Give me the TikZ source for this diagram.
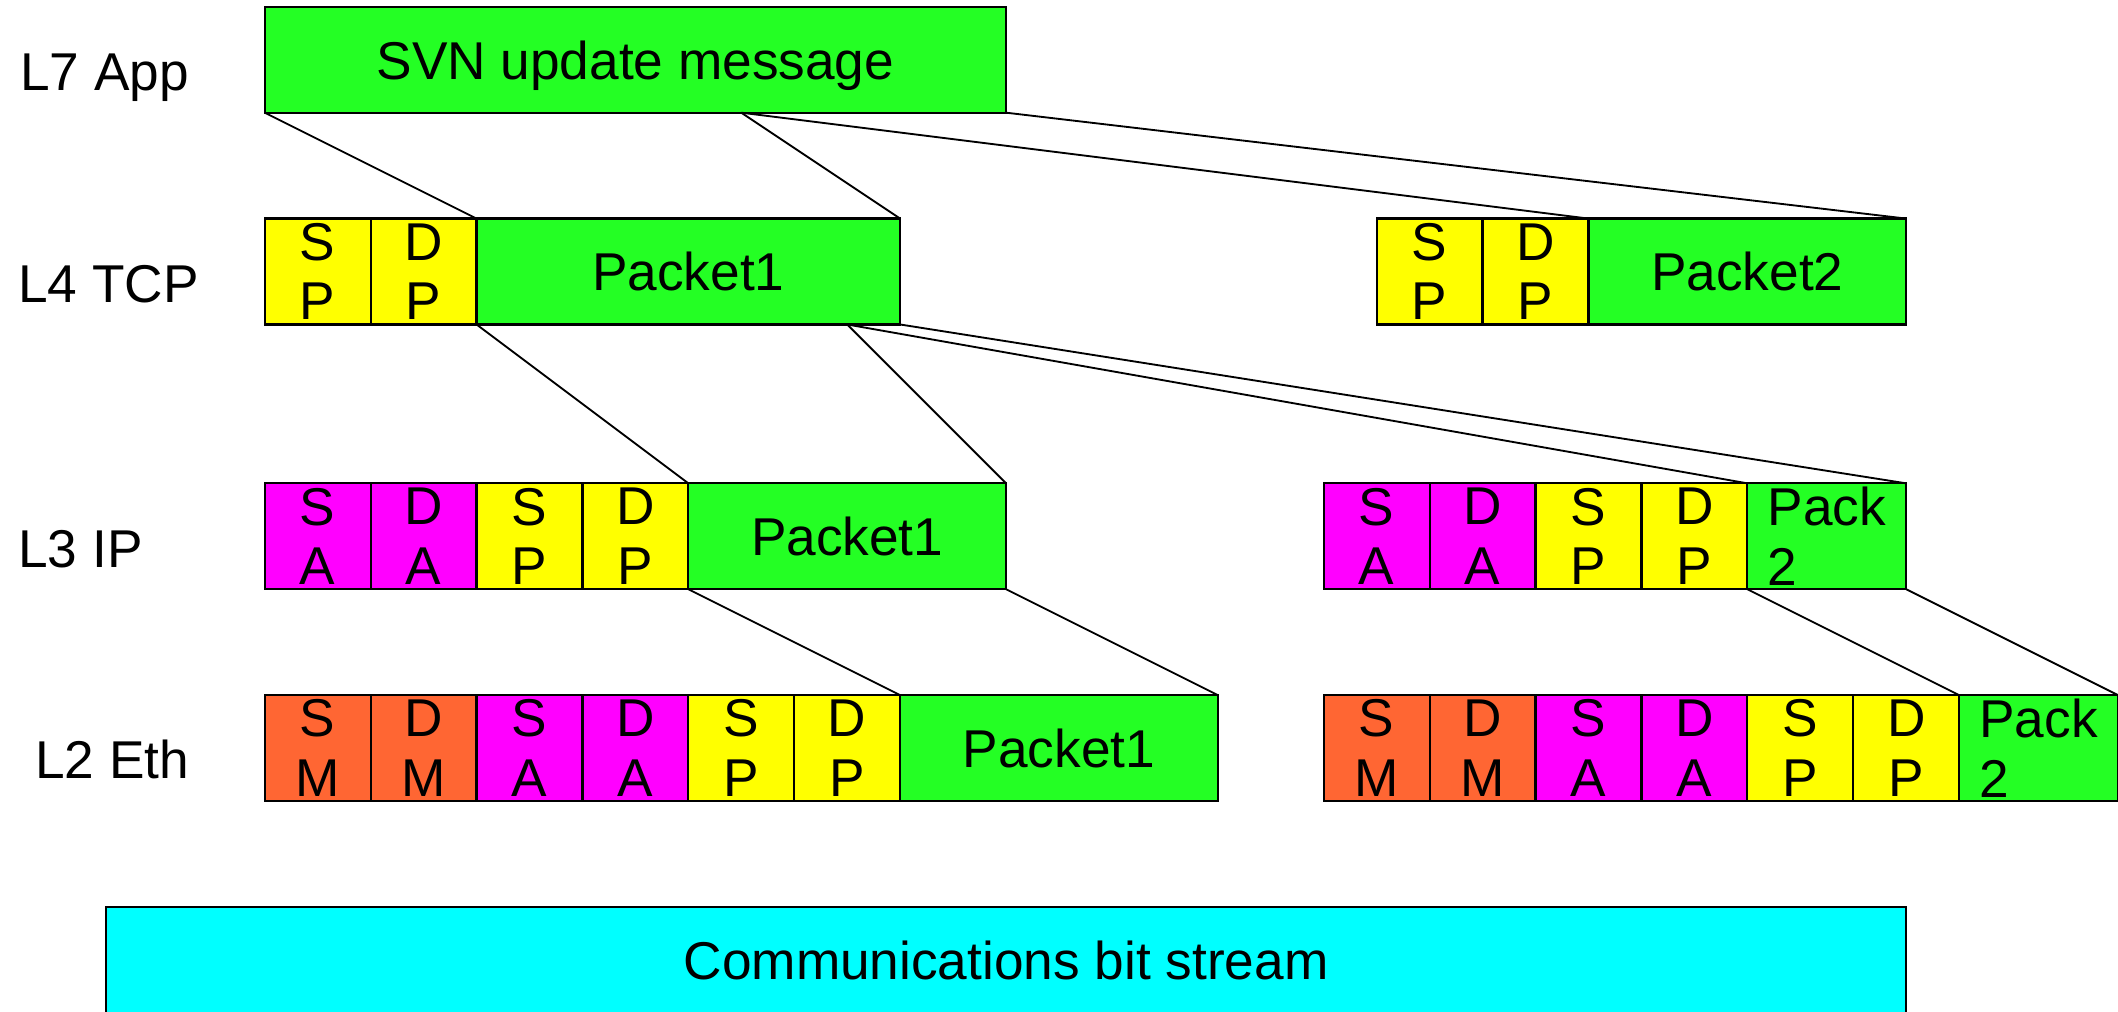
\documentclass[tikz,border=0pt]{standalone}
\usepackage{fontspec}
\setmainfont{Liberation Sans}
\definecolor{pgreen}{RGB}{36,255,36}
\definecolor{pyellow}{RGB}{255,255,0}
\definecolor{pmagenta}{RGB}{255,0,255}
\definecolor{porange}{RGB}{255,102,51}
\definecolor{pcyan}{RGB}{0,255,255}
\newcommand\cellfont{\fontsize{14.3pt}{16pt}\selectfont}
\begin{document}
\begin{tikzpicture}[x=1cm,y=-1cm,
  base/.style={draw=black, line width=0.6pt, inner sep=0pt, outer sep=0pt,
    anchor=north west, minimum height=1cm, minimum width=1cm,
    font=\cellfont, align=center},
  fg/.style={base, fill=pgreen},
  fy/.style={base, fill=pyellow},
  fm/.style={base, fill=pmagenta},
  fo/.style={base, fill=porange},
  single/.style={text depth=0pt},
  link/.style={draw=black, line width=0.5pt},
  lay/.style={font=\cellfont, inner sep=0pt, anchor=base west}]
\clip (0,0) rectangle (20,9.556);
% layer labels
\node[lay] (l7) at (0.185,0.855) {L7 App};
\node[lay] (l4) at (0.166,2.857) {L4 TCP};
\node[lay] (l3) at (0.166,5.355) {L3 IP};
\node[lay] (l2) at (0.325,7.353) {L2 Eth};
% L7
\node[fg, single, minimum width=7cm] (svn) at (2.5,0.064) {SVN update message};
% L4
\node[fy] (t1sp) at (2.5,2.064) {S\\P};
\node[fy] (t1dp) at (3.5,2.064) {D\\P};
\node[fg, single, minimum width=4cm] (t1pk) at (4.5,2.064) {Packet1};
\node[fy] (t2sp) at (13,2.064) {S\\P};
\node[fy] (t2dp) at (14,2.064) {D\\P};
\node[fg, single, minimum width=3cm] (t2pk) at (15,2.064) {Packet2};
% L3
\node[fm] (i1sa) at (2.5,4.564) {S\\A};
\node[fm] (i1da) at (3.5,4.564) {D\\A};
\node[fy] (i1sp) at (4.5,4.564) {S\\P};
\node[fy] (i1dp) at (5.5,4.564) {D\\P};
\node[fg, single, minimum width=3cm] (i1pk) at (6.5,4.564) {Packet1};
\node[fm] (i2sa) at (12.5,4.564) {S\\A};
\node[fm] (i2da) at (13.5,4.564) {D\\A};
\node[fy] (i2sp) at (14.5,4.564) {S\\P};
\node[fy] (i2dp) at (15.5,4.564) {D\\P};
\node[fg, align=left, minimum width=1.5cm] (i2pk) at (16.5,4.564) {Pack\\2};
% L2
\node[fo] (e1sm) at (2.5,6.564) {S\\M};
\node[fo] (e1dm) at (3.5,6.564) {D\\M};
\node[fm] (e1sa) at (4.5,6.564) {S\\A};
\node[fm] (e1da) at (5.5,6.564) {D\\A};
\node[fy] (e1sp) at (6.5,6.564) {S\\P};
\node[fy] (e1dp) at (7.5,6.564) {D\\P};
\node[fg, single, minimum width=3cm] (e1pk) at (8.5,6.564) {Packet1};
\node[fo] (e2sm) at (12.5,6.564) {S\\M};
\node[fo] (e2dm) at (13.5,6.564) {D\\M};
\node[fm] (e2sa) at (14.5,6.564) {S\\A};
\node[fm] (e2da) at (15.5,6.564) {D\\A};
\node[fy] (e2sp) at (16.5,6.564) {S\\P};
\node[fy] (e2dp) at (17.5,6.564) {D\\P};
\node[fg, align=left, minimum width=1.5cm] (e2pk) at (18.5,6.564) {Pack\\2};
% bit stream
\node[base, fill=pcyan, single, minimum width=17cm] (bits) at (1,8.564) {Communications bit stream};
% split points
\coordinate (svnmid) at (7,1.064);
\coordinate (t1mid) at (8,3.064);
% connectors
\draw[link] (svn.south west) -- (t1pk.north west);
\draw[link] (svnmid) -- (t1pk.north east);
\draw[link] (svnmid) -- (t2pk.north west);
\draw[link] (svn.south east) -- (t2pk.north east);
\draw[link] (t1pk.south west) -- (i1pk.north west);
\draw[link] (t1mid) -- (i1pk.north east);
\draw[link] (t1mid) -- (i2pk.north west);
\draw[link] (t1pk.south east) -- (i2pk.north east);
\draw[link] (i1pk.south west) -- (e1pk.north west);
\draw[link] (i1pk.south east) -- (e1pk.north east);
\draw[link] (i2pk.south west) -- (e2pk.north west);
\draw[link] (i2pk.south east) -- (e2pk.north east);
\end{tikzpicture}
\end{document}
